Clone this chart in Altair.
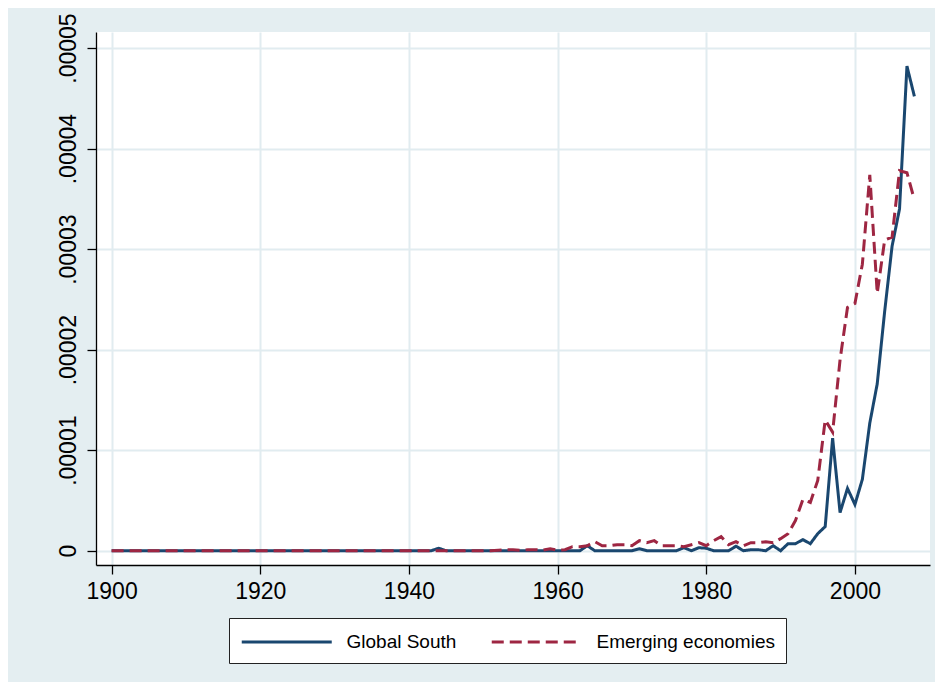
import altair as alt
import pandas as pd

# Years 1900-2008
years = list(range(1900, 2009))

# Values in millionths (1e-6)
global_south = (
    [0] * 10 + [0] * 10 + [0] * 10 + [0] * 10
    + [0, 0, 0, 0, 0.25, 0, 0, 0, 0, 0]
    + [0] * 10
    + [0, 0, 0, 0, 0.5, 0, 0, 0, 0, 0]
    + [0, 0.2, 0, 0, 0, 0, 0, 0.3, 0, 0.3]
    + [0.25, 0, 0, 0, 0.45, 0, 0.1, 0.1, 0, 0.5]
    + [0, 0.7, 0.7, 1.1, 0.7, 1.7, 2.4, 11.2, 3.8, 6.2]
    + [4.6, 7.1, 12.7, 16.6, 23.8, 30.3, 34.0, 48.2, 45.2]
)

emerging = (
    [0] * 10 + [0] * 10 + [0] * 10 + [0] * 10 + [0] * 10
    + [0, 0, 0.05, 0.1, 0.1, 0.05, 0.1, 0.1, 0.05, 0.2]
    + [0.05, 0.1, 0.4, 0.4, 0.5, 0.9, 0.5, 0.5, 0.6, 0.6]
    + [0.5, 1.0, 0.8, 1.0, 0.5, 0.5, 0.5, 0.4, 0.6, 0.8]
    + [0.5, 1.0, 1.4, 0.6, 0.9, 0.5, 0.8, 0.8, 0.9, 0.8]
    + [1.2, 1.7, 3.0, 5.1, 4.8, 7.0, 13.0, 11.8, 19.0, 24.2]
    + [24.6, 28.5, 37.4, 25.6, 30.9, 31.2, 37.8, 37.6, 34.9]
)

series_names = ["Global South", "Emerging economies"]
series_colors = ["#1a476f", "#9e2642"]
x_ticks = [1900, 1920, 1940, 1960, 1980, 2000]
y_ticks = [0, 10, 20, 30, 40, 50]

df = pd.concat([
    pd.DataFrame({"year": years, "value": global_south, "series": series_names[0]}),
    pd.DataFrame({"year": years, "value": emerging, "series": series_names[1]}),
])

FONT = "Liberation Sans"
GRID = "#e1ecf0"

x_enc = alt.X(
    "year:Q",
    scale=alt.Scale(domain=[1897.9, 2010.1], nice=False, zero=False),
    axis=alt.Axis(
        values=x_ticks, format="d", title=None,
        labelFontSize=23, labelFont=FONT, labelColor="#000000",
        labelPadding=6, labelBaseline="top",
        tickSize=9, tickColor="#000000", tickWidth=1.3,
        domainColor="#000000", domainWidth=1.3,
        grid=True, gridColor=GRID, gridWidth=2,
    ),
)
y_enc = alt.Y(
    "value:Q",
    scale=alt.Scale(domain=[-1.42, 51.6], nice=False, zero=False),
    axis=alt.Axis(
        values=y_ticks, title=None,
        labelExpr="datum.value == 0 ? '0' : '.0000' + (datum.value / 10)",
        labelAngle=270, labelAlign="center", labelBaseline="bottom",
        labelFontSize=23, labelFont=FONT, labelColor="#000000",
        labelPadding=7,
        tickSize=9, tickColor="#000000", tickWidth=1.3,
        domainColor="#000000", domainWidth=1.3,
        grid=True, gridColor=GRID, gridWidth=2,
    ),
)

legend_opts = dict(
    title=None, orient="none", legendX=133, legendY=586,
    direction="horizontal",
    fillColor="white", strokeColor="#222222", padding=11,
    symbolType="M-1,0H7", symbolSize=506.25, symbolStrokeWidth=3,
    labelFontSize=19, labelFont=FONT, labelColor="#000000",
    labelOffset=80.5, columnPadding=28, labelLimit=400,
)

color_enc = alt.Color(
    "series:N",
    scale=alt.Scale(domain=series_names, range=series_colors),
    legend=alt.Legend(**legend_opts),
)
dash_enc = alt.StrokeDash(
    "series:N",
    scale=alt.Scale(domain=series_names, range=[[1, 0], [12, 6]]),
    legend=alt.Legend(**legend_opts),
)

base = alt.Chart(df).mark_line(strokeWidth=3, clip=True).encode(
    x=x_enc, y=y_enc, color=color_enc, strokeDash=dash_enc
)

blue = base.transform_filter(alt.datum.series == series_names[0])
red = base.transform_filter(alt.datum.series == series_names[1])

chart = alt.layer(blue, red).properties(
    width=834, height=533,
    autosize=alt.AutoSizeParams(type="none"),
    padding={"left": 88, "top": 24, "right": 5, "bottom": 117},
    background="#e4eef1",
).configure_view(stroke=None, fill="white")

chart.save("out.html", embed_options={"renderer": "svg", "actions": False})
